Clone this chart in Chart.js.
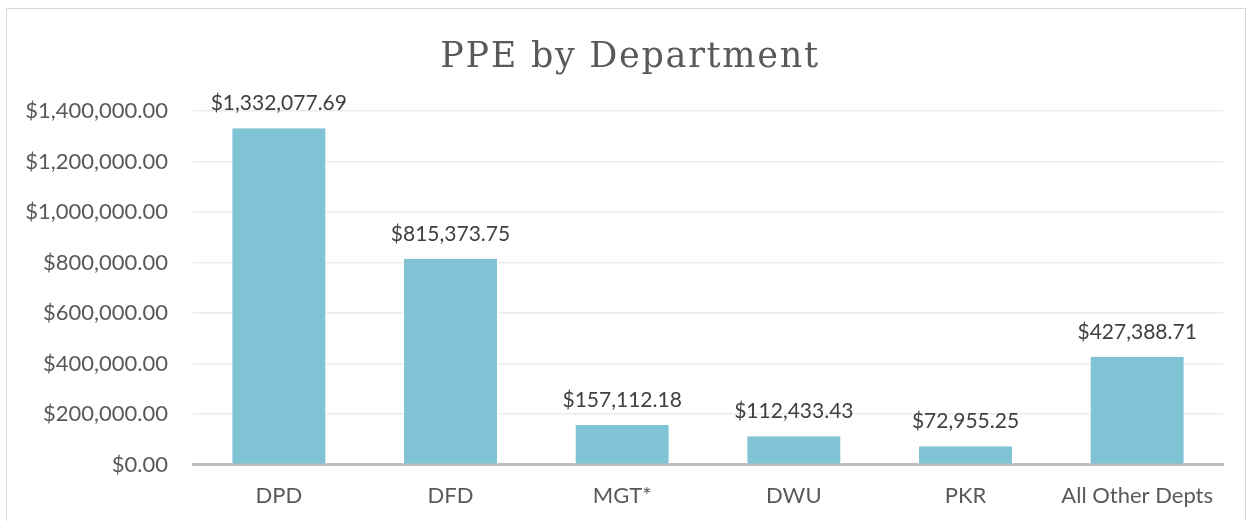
<!DOCTYPE html>
<html>
<head>
<meta charset="utf-8">
<script src="https://cdn.jsdelivr.net/npm/chart.js@4"></script>
<style>
  html, body { margin: 0; padding: 0; background: #fff; }
  #frame { position: absolute; left: 6px; top: 8px; width: 1238px; height: 530px; border: 1px solid #d9d9d9; }
  #wrap { position: absolute; left: 0; top: 0; width: 1248px; height: 521px; }
</style>
</head>
<body>
<div id="frame"></div>
<div id="wrap"><canvas id="ppe-chart" width="1248" height="521"></canvas></div>
<script>
const departments = ['DPD', 'DFD', 'MGT*', 'DWU', 'PKR', 'All Other Depts'];
const ppeAmounts = [1332077.69, 815373.75, 157112.18, 112433.43, 72955.25, 427388.71];
const yTickMax = 1400000;
const yTickStep = 200000;
const chartTitle = 'PPE by Department';

const money = v => '$' + v.toLocaleString('en-US', { minimumFractionDigits: 2, maximumFractionDigits: 2 });

// value labels above each bar
const barLabels = {
  id: 'barLabels',
  afterDatasetsDraw(chart) {
    const { ctx } = chart;
    const meta = chart.getDatasetMeta(0);
    ctx.save();
    ctx.font = '21px Lato';
    ctx.fillStyle = '#404040';
    ctx.textAlign = 'center';
    ctx.textBaseline = 'bottom';
    meta.data.forEach((bar, i) => {
      ctx.fillText(money(ppeAmounts[i]), bar.x, bar.y - 14);
    });
    ctx.restore();
  }
};

// serif title with a bit of tracking, drawn into the space the title box reserves
const spacedTitle = {
  id: 'spacedTitle',
  afterDraw(chart) {
    const tb = chart.titleBlock;
    if (!tb) return;
    const { ctx } = chart;
    ctx.save();
    ctx.font = '35px "DejaVu Serif"';
    ctx.letterSpacing = '1.7px';
    ctx.fillStyle = '#595959';
    ctx.textAlign = 'center';
    ctx.textBaseline = 'alphabetic';
    ctx.fillText(chartTitle, chart.width / 2 + 6, 67);
    ctx.restore();
  }
};

const ctx = document.getElementById('ppe-chart').getContext('2d');
new Chart(ctx, {
  type: 'bar',
  data: {
    labels: departments,
    datasets: [{
      label: 'PPE',
      data: ppeAmounts,
      backgroundColor: '#80c3d4',
      borderColor: '#ffffff',
      borderWidth: { left: 1, right: 1, top: 0, bottom: 0 },
      barPercentage: 0.553,
      categoryPercentage: 1.0
    }]
  },
  options: {
    responsive: false,
    animation: false,
    layout: { padding: { left: 0, right: 25, top: 0, bottom: 2 } },
    plugins: {
      legend: { display: false },
      tooltip: { enabled: false },
      title: {
        display: true,
        text: chartTitle,
        color: 'rgba(0,0,0,0)',
        font: { family: 'Lato', size: 40, weight: 'normal' },
        padding: { top: 28, bottom: 35 }
      }
    },
    scales: {
      x: {
        grid: { display: false },
        border: { color: '#bfbfbf', width: 3 },
        ticks: { color: '#595959', font: { family: 'Lato', size: 22 }, padding: 10 }
      },
      y: {
        min: 0,
        max: yTickMax,
        afterFit(scale) { scale.width = 193; },
        grid: { color: '#ebebeb', lineWidth: 1.5, drawTicks: false },
        border: { display: false },
        ticks: {
          stepSize: yTickStep,
          color: '#595959',
          font: { family: 'Lato', size: 22 },
          padding: 25,
          callback: v => money(v)
        }
      }
    }
  },
  plugins: [barLabels, spacedTitle]
});
</script>
</body>
</html>
